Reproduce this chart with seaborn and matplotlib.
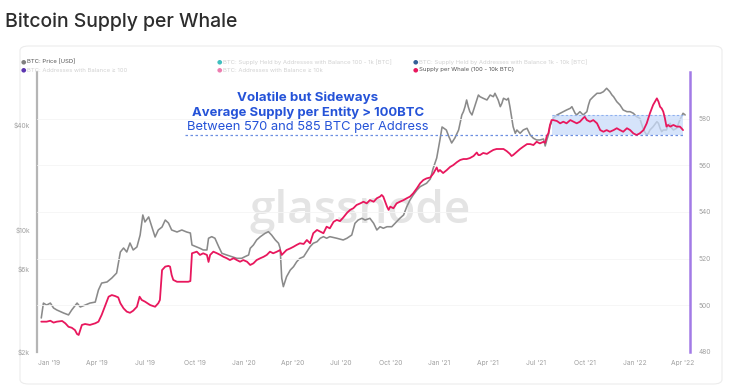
import numpy as np
import pandas as pd
import matplotlib
matplotlib.use("Agg")
import matplotlib.pyplot as plt
import matplotlib.dates as mdates
from matplotlib.ticker import NullLocator
from matplotlib.patches import FancyBboxPatch
import seaborn as sns

sns.set_theme(style="white")
plt.rcParams["font.family"] = ["Inter", "DejaVu Sans"]

# ---------------- data ----------------
start_date = "2019-01-01"

price_day = [-14, -10, -4, 3, 9, 15, 28, 37, 43, 53,
             59, 68, 77, 87, 93, 99, 109, 118, 127, 134,
             140, 146, 152, 158, 165, 171, 176, 180, 187, 193,
             199, 205, 212, 218, 224, 230, 240, 249, 258, 265,
             268, 277, 283, 289, 296, 299, 305, 311, 318, 324,
             333, 343, 352, 361, 367, 374, 377, 383, 389, 396,
             405, 411, 417, 424, 430, 433, 436, 439, 442, 445,
             452, 458, 464, 470, 477, 483, 489, 495, 502, 508,
             514, 520, 526, 539, 551, 558, 567, 573, 579, 586,
             592, 601, 608, 614, 620, 626, 633, 642, 651, 657,
             664, 670, 676, 682, 689, 695, 701, 707, 714, 719,
             726, 732, 736, 744, 749, 754, 760, 767, 773, 776,
             779, 782, 785, 788, 792, 795, 801, 804, 807, 813,
             820, 826, 832, 835, 838, 841, 845, 848, 851, 857,
             860, 863, 866, 869, 873, 876, 879, 882, 888, 895,
             901, 907, 913, 919, 926, 929, 932, 935, 938, 944,
             951, 957, 963, 969, 976, 979, 982, 985, 988, 994,
             1000, 1007, 1010, 1013, 1019, 1026, 1032, 1038, 1044, 1050,
             1054, 1057, 1063, 1069, 1075, 1082, 1088, 1094, 1100, 1106,
             1110, 1113, 1119, 1122, 1125, 1131, 1138, 1141, 1144, 1147,
             1150, 1156, 1159, 1163, 1166, 1169, 1175, 1181, 1184, 1187,
             1191]

price_usd = [3130, 3810, 3710, 3810, 3570, 3480, 3340, 3260, 3480, 3810,
             3620, 3710, 3810, 3860, 4530, 4960, 5030, 5300, 5660, 7470,
             7870, 7470, 8410, 7670, 7980, 9340, 12160, 11090, 11850, 10380,
             9100, 9980, 10380, 11380, 10940, 9980, 9720, 9980, 9720, 9590,
             8190, 7980, 7840, 7670, 7670, 8950, 9140, 8950, 8010, 7340,
             7180, 7020, 6870, 6870, 7020, 7180, 7840, 8190, 8750, 9140,
             9560, 9760, 9340, 8750, 8380, 7840, 5280, 4730, 5050, 5390,
             5890, 6150, 6570, 6870, 7020, 7500, 8010, 8380, 8550, 8950,
             9140, 8950, 9140, 8950, 8750, 8950, 9340, 10900, 11380, 11640,
             11380, 11640, 10900, 9980, 10420, 10210, 10420, 10420, 11130, 11640,
             12160, 13570, 14810, 15830, 16910, 17660, 18060, 18470, 19540, 22290,
             25770, 32670, 38780, 37270, 33980, 31400, 33540, 37270, 45420, 47430,
             50660, 55340, 50660, 47430, 45420, 48500, 55340, 59080, 57780, 56590,
             55340, 59080, 57780, 60440, 57780, 55340, 50660, 52970, 56590, 55340,
             56590, 50660, 44420, 38920, 35680, 37270, 36440, 35680, 37270, 38110,
             34900, 33400, 32670, 32670, 33100, 30180, 32670, 34900, 39280, 43480,
             45420, 46440, 47430, 48500, 49600, 50660, 48500, 46440, 45420, 47430,
             45420, 47430, 51810, 55340, 57780, 60440, 60440, 61720, 64560, 61720,
             59080, 57780, 54100, 51810, 48500, 47430, 47430, 46440, 44420, 43480,
             39810, 37270, 34900, 35680, 37270, 38920, 41580, 40700, 38110, 36440,
             37270, 37270, 39810, 40700, 38110, 37270, 38110, 42520, 44420, 46440,
             45420]

supply_day = [-14, -4, 3, 9, 15, 25, 31, 37, 43, 49,
              53, 56, 59, 62, 68, 77, 87, 93, 99, 106,
              112, 118, 124, 130, 134, 140, 146, 152, 158, 165,
              170, 174, 180, 190, 199, 205, 208, 212, 218, 224,
              227, 230, 233, 240, 252, 261, 265, 268, 277, 283,
              289, 296, 299, 302, 308, 315, 321, 327, 333, 339,
              346, 352, 358, 364, 371, 377, 383, 389, 396, 402,
              408, 414, 420, 427, 433, 436, 439, 445, 452, 458,
              464, 470, 477, 483, 489, 495, 502, 508, 514, 520,
              526, 533, 539, 545, 551, 558, 564, 570, 576, 583,
              589, 595, 601, 608, 614, 620, 623, 626, 633, 636,
              639, 645, 651, 657, 664, 670, 676, 682, 689, 695,
              701, 707, 714, 720, 726, 729, 732, 738, 745, 751,
              757, 764, 770, 776, 782, 788, 795, 801, 804, 807,
              813, 820, 826, 832, 838, 845, 851, 857, 863, 866,
              869, 876, 882, 888, 895, 901, 907, 913, 919, 926,
              929, 932, 935, 938, 941, 944, 951, 957, 963, 969,
              976, 982, 988, 994, 1000, 1003, 1007, 1013, 1019, 1026,
              1032, 1038, 1044, 1050, 1057, 1063, 1069, 1075, 1082, 1088,
              1094, 1100, 1106, 1113, 1119, 1125, 1131, 1138, 1141, 1144,
              1147, 1150, 1153, 1156, 1159, 1163, 1169, 1175, 1181, 1184,
              1187]

supply_btc = [493.0, 493.0, 493.4, 492.6, 493.0, 493.3, 492.3, 490.8, 490.4, 489.4,
              487.7, 487.3, 489.4, 491.6, 492.0, 491.6, 492.3, 493.0, 495.9, 500.1,
              503.7, 504.4, 504.0, 503.4, 500.9, 498.7, 497.3, 496.8, 497.7, 499.4,
              503.7, 502.3, 501.6, 500.1, 499.4, 500.9, 502.3, 515.1, 516.6, 516.9,
              516.6, 513.0, 510.9, 510.1, 510.1, 510.1, 510.4, 522.3, 523.0, 521.6,
              522.3, 521.6, 518.6, 521.6, 523.0, 522.3, 521.6, 520.8, 520.2, 519.4,
              520.2, 519.4, 518.7, 519.4, 518.7, 517.3, 518.0, 519.4, 520.2, 520.8,
              521.6, 523.0, 522.3, 523.0, 523.7, 521.6, 522.3, 523.7, 524.4, 525.1,
              525.9, 526.6, 526.3, 528.0, 526.6, 530.9, 532.3, 531.6, 530.9, 533.7,
              533.0, 535.8, 536.6, 536.1, 537.6, 539.6, 540.9, 541.6, 543.0, 543.7,
              544.4, 543.7, 545.1, 544.4, 545.9, 546.6, 547.3, 546.6, 542.3, 540.9,
              542.3, 541.6, 543.7, 544.4, 545.1, 545.9, 546.6, 548.0, 550.2, 552.3,
              553.7, 554.4, 554.8, 556.6, 559.1, 557.3, 558.0, 556.7, 558.0, 559.3,
              560.1, 561.4, 562.3, 562.7, 562.7, 563.1, 564.0, 565.5, 564.4, 564.4,
              565.3, 564.9, 565.8, 566.6, 567.0, 567.0, 567.0, 566.1, 564.9, 564.0,
              564.4, 565.8, 567.0, 568.0, 569.1, 569.1, 568.7, 570.1, 569.4, 570.1,
              569.6, 572.6, 573.7, 577.3, 579.4, 579.4, 579.0, 578.0, 578.7, 578.0,
              579.4, 578.7, 578.0, 578.7, 580.2, 580.8, 579.4, 578.7, 579.4, 578.0,
              575.1, 574.4, 575.1, 574.4, 575.1, 575.9, 575.1, 574.4, 575.9, 575.1,
              573.7, 573.0, 573.7, 575.1, 578.0, 582.3, 585.9, 588.7, 587.3, 585.1,
              584.4, 583.0, 580.2, 576.6, 577.3, 576.6, 577.3, 576.6, 576.6, 575.9,
              575.1]

# annotation values
band_low, band_high = 573.0, 581.5
band_start_day, band_end_day = 941, 1187
ref_line_start_day = 255

price_ticks = [2000, 6000, 10000, 40000]
price_tick_labels = ["$2k", "$6k", "$10k", "$40k"]
supply_ticks = [480, 500, 520, 540, 560, 580]

annotation_lines = ["Volatile but Sideways",
                    "Average Supply per Entity > 100BTC",
                    "Between 570 and 585 BTC per Address"]

legend_items = [
    ("BTC: Price [USD]", "#808080", True),
    ("BTC: Supply Held by Addresses with Balance 100 - 1k [BTC]", "#2bb8b8", False),
    ("BTC: Supply Held by Addresses with Balance 1k - 10k [BTC]", "#1f4e8c", False),
    ("BTC: Addresses with Balance \u2265 100", "#4a1fa8", False),
    ("BTC: Addresses with Balance \u2265 10k", "#ec6fa8", False),
    ("Supply per Whale (100 - 10k BTC)", "#e8175d", True),
]

# ---------------- build frames ----------------
base = pd.Timestamp(start_date)
price_df = pd.DataFrame({"date": base + pd.to_timedelta(price_day, unit="D"),
                         "price": price_usd})
supply_df = pd.DataFrame({"date": base + pd.to_timedelta(supply_day, unit="D"),
                          "supply": supply_btc})

GRAY = "#8a8a8a"
RED = "#e8175d"
BLUE_TXT = "#2553d8"

W, H = 730, 390
fig = plt.figure(figsize=(W / 100, H / 100), dpi=100)
fig.patch.set_facecolor("white")

# card border (outline only)
card = FancyBboxPatch((20 / W, 6 / H), 702 / W, 338 / H,
                      boxstyle="round,pad=0,rounding_size=0.012",
                      transform=fig.transFigure, fc="none", ec="#ececec",
                      lw=0.8, zorder=-5)
fig.patches.append(card)

ax = fig.add_axes([37 / W, 1 - 352 / H, 653 / W, 280 / H])
ax.patch.set_alpha(0)
ax2 = ax.twinx()
ax2.patch.set_alpha(0)

sns.lineplot(data=price_df, x="date", y="price", ax=ax, color=GRAY,
             linewidth=1.15, zorder=2)
ax.set_yscale("log")
ax.set_ylim(2000, 80000)

sns.lineplot(data=supply_df, x="date", y="supply", ax=ax2, color=RED,
             linewidth=1.3, zorder=4)
ax2.set_ylim(480, 600)

x0 = base + pd.Timedelta(days=-22)
x1 = base + pd.Timedelta(days=1200)
ax.set_xlim(x0, x1)

# band and dashed reference line
b0 = base + pd.Timedelta(days=band_start_day)
b1 = base + pd.Timedelta(days=band_end_day)
r0 = base + pd.Timedelta(days=ref_line_start_day)
ax2.fill_between([b0, b1], [band_low, band_low], [band_high, band_high],
                 color="#c9dcfa", alpha=0.75, lw=0, zorder=3)
ax2.plot([b0, b1], [band_high, band_high], color="#8fb0ee", lw=0.8,
         ls=(0, (2, 2)), zorder=3)
ax2.plot([r0, b1], [band_low, band_low], color="#6c8fe0", lw=0.9,
         ls=(0, (2, 2)), zorder=3)

# axes styling
for a in (ax, ax2):
    a.set_xlabel("")
    a.set_ylabel("")
    for s in a.spines.values():
        s.set_visible(False)
ax.spines["left"].set_visible(True)
ax.spines["left"].set_color("#b5b5b5")
ax.spines["left"].set_linewidth(1.6)
ax2.spines["right"].set_visible(True)
ax2.spines["right"].set_color("#a27ae6")
ax2.spines["right"].set_linewidth(1.8)

ax.yaxis.set_minor_locator(NullLocator())
ax.set_yticks(price_ticks)
ax.set_yticklabels(price_tick_labels)
ax2.set_yticks(supply_ticks)
ax2.set_yticklabels([str(v) for v in supply_ticks])

ax.xaxis.set_major_locator(mdates.MonthLocator(bymonth=[1, 4, 7, 10]))
ax.xaxis.set_major_formatter(mdates.DateFormatter("%b '%y"))

ax.tick_params(axis="y", length=0, pad=5, labelsize=4.8, labelcolor="#a0a0a0")
ax2.tick_params(axis="y", length=0, pad=6, labelsize=4.8, labelcolor="#a0a0a0")
ax.tick_params(axis="x", length=0, pad=6, labelsize=4.8, labelcolor="#a0a0a0")

ax2.grid(axis="y", color="#f5f5f5", lw=0.6)
ax2.set_axisbelow(True)
ax.grid(False)

# watermark
ax.text(0.495, 0.50, "glassnode", transform=ax.transAxes, ha="center",
        va="center", fontsize=33, color="#e4e4e4", zorder=0,
        family=["Open Sans", "DejaVu Sans"], weight="semibold")

# title
fig.text(5 / W, 1 - 22 / H, "Bitcoin Supply per Whale", fontsize=14,
         color="#2d2d2d", va="center", ha="left", weight="medium")

# annotation
ann_y = [98, 113, 127]
ann_w = ["bold", "bold", "normal"]
ann_s = [9.6, 9.4, 9.3]
for txt, yy, ww, ss in zip(annotation_lines, ann_y, ann_w, ann_s):
    fig.text(308 / W, 1 - yy / H, txt, fontsize=ss, color=BLUE_TXT,
             ha="center", va="center", weight=ww)

# legend
leg_pos = [(23, 62), (219, 62), (415, 62), (23, 70), (219, 70), (415, 70)]
for (label, col, active), (lx, ly) in zip(legend_items, leg_pos):
    fig.text(lx / W, 1 - ly / H, "\u25cf", fontsize=4.5, color=col,
             alpha=1.0 if active else 0.9, ha="center", va="center",
             family=["DejaVu Sans"])
    fig.text((lx + 4) / W, 1 - ly / H, label, fontsize=4.3,
             color="#555555" if active else "#d2d2d2", ha="left", va="center")

fig.savefig("out.png", dpi=100, facecolor="white")
